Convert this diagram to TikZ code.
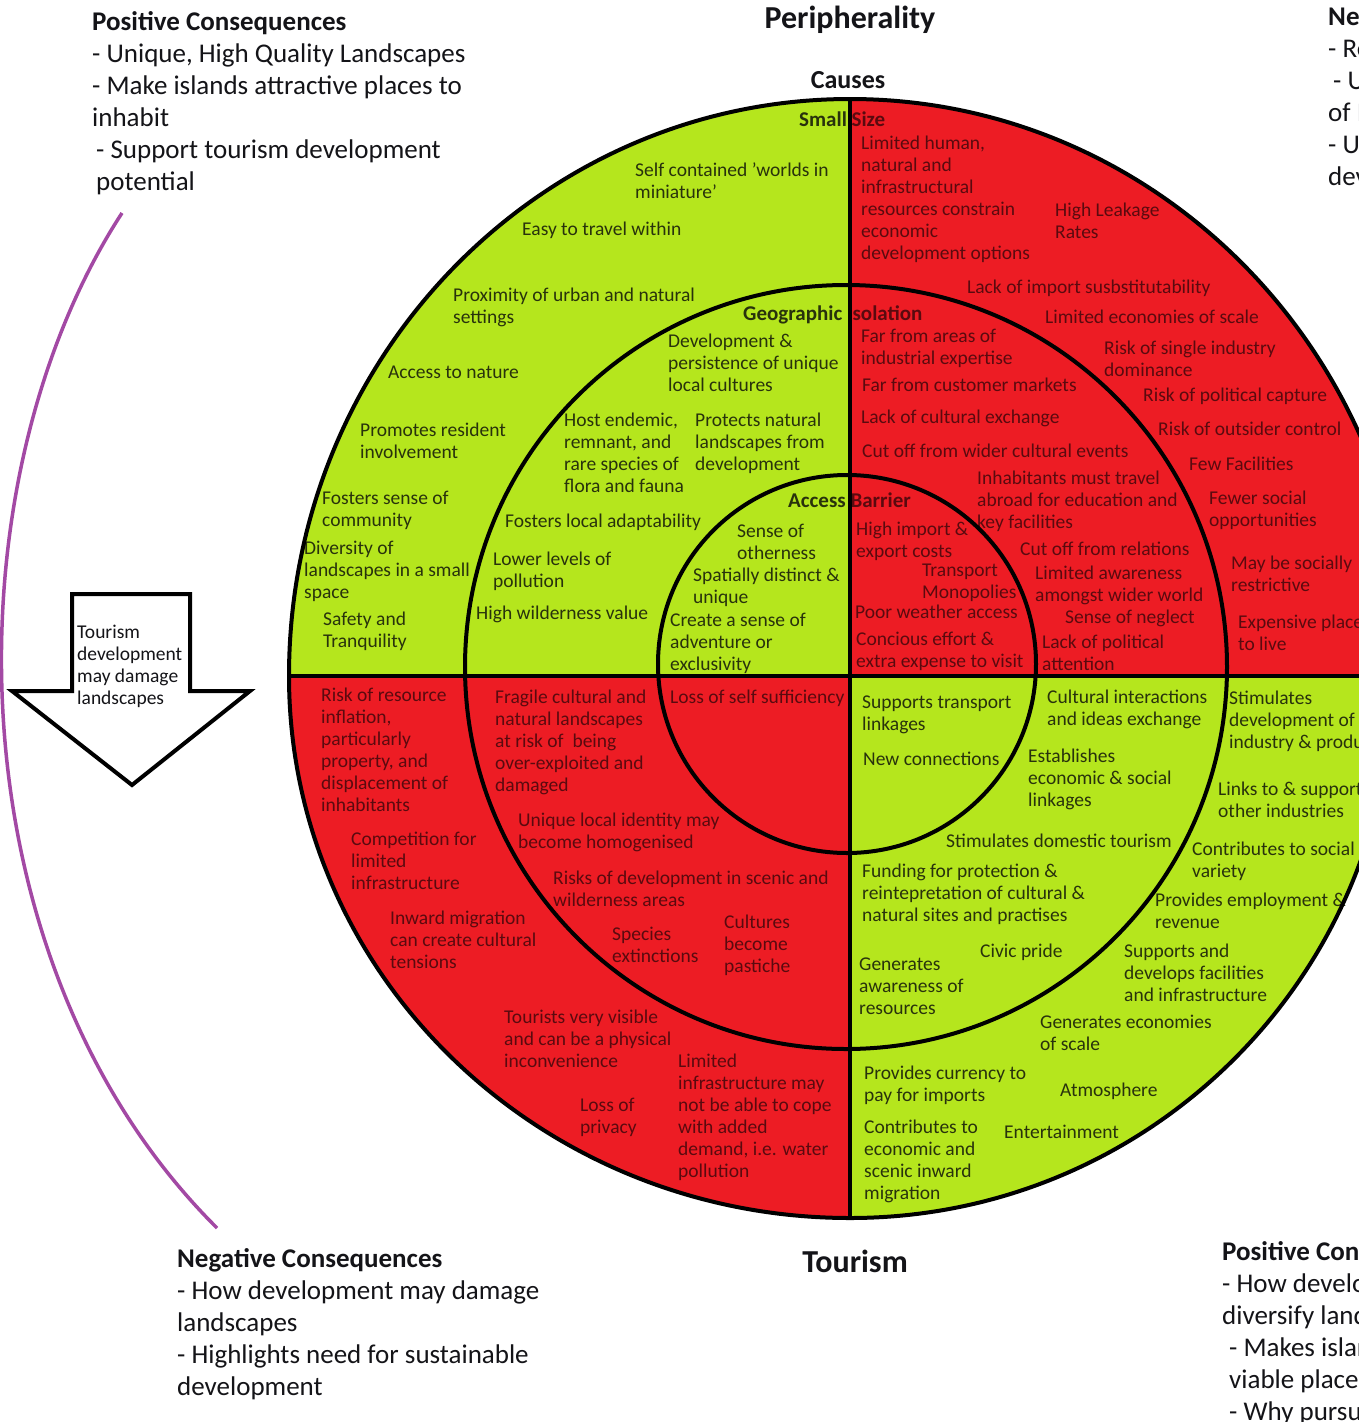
\documentclass[tikz,border=0pt]{standalone}
\usepackage{fontspec}
\setmainfont{Carlito}
\definecolor{limeg}{HTML}{B5E61D}
\definecolor{paintred}{HTML}{ED1C24}
\definecolor{paintpurple}{HTML}{A349A4}
\definecolor{txtg}{HTML}{28320C}
\definecolor{txtr}{HTML}{5A0A0F}
\definecolor{txtk}{HTML}{141418}
\tikzset{
  ctext/.style={anchor=north west, inner sep=0pt, align=left, font=\fontsize{19.5}{22}\selectfont, yshift=9pt},
  tg/.style={ctext, text=txtg},
  tr/.style={ctext, text=txtr},
  tk/.style={ctext, text=txtk},
  blk/.style={anchor=north west, inner sep=0pt, align=left, font=\fontsize{27}{32}\selectfont, yshift=13.6pt, text=txtk},
  lbl/.style={anchor=base west, inner sep=0pt, font=\fontsize{21}{24}\selectfont\bfseries},
  ttl/.style={anchor=center, inner sep=0pt, font=\fontsize{#1}{#1}\selectfont\bfseries, text=txtk},
  ring/.style={draw=black, line width=4pt},
}
\begin{document}
\begin{tikzpicture}[x=1pt,y=-1pt]
\useasboundingbox (0,0) rectangle (1359,1422);
\fill[white] (0,0) rectangle (1359,1422);
\clip (0,0) rectangle (1359,1422);
% quadrant fills
\begin{scope}
\clip (289,676) .. controls (289,357.3) and (540.2,99) .. (850,99)
  .. controls (1159.8,99) and (1411,357.3) .. (1411,676) -- (1393,676)
  .. controls (1393,975.3) and (1149.9,1218) .. (850,1218)
  .. controls (540.2,1218) and (289,975.3) .. (289,676) -- cycle;
\fill[limeg] (250,60) rectangle (850,676);
\fill[paintred] (850,60) rectangle (1450,676);
\fill[paintred] (250,676) rectangle (850,1260);
\fill[limeg] (850,676) rectangle (1450,1260);
\end{scope}
% ---- texts in the green quadrants
\node[tg] (g1) at (635,170) {\strut Self contained 'worlds in\\miniature'};
\node[tg] (g2) at (522,229) {\strut Easy to travel within};
\node[tg] (g3) at (453,295) {\strut Proximity of urban and natural\\settings};
\node[tg] (g4) at (388,372) {\strut Access to nature};
\node[tg] (g5) at (360,430) {\strut Promotes resident\\involvement};
\node[tg] (g6) at (322,498) {\strut Fosters sense of\\community};
\node[tg] (g7) at (304,548) {\strut Diversity of\\landscapes in a small\\space};
\node[tg] (g8) at (323,619) {\strut Safety and\\Tranquility};
\node[tg] (g9) at (668,341) {\strut Development \&\\persistence of unique\\local cultures};
\node[tg] (g10) at (564,420) {\strut Host endemic,\\remnant, and\\rare species of\\flora and fauna};
\node[tg] (g11) at (695,420) {\strut Protects natural\\landscapes from\\development};
\node[tg] (g12) at (505,521) {\strut Fosters local adaptability};
\node[tg] (g13) at (493,559) {\strut Lower levels of\\pollution};
\node[tg] (g14) at (476,613) {\strut High wilderness value};
\node[tg] (g15) at (737,531) {\strut Sense of\\otherness};
\node[tg] (g16) at (693,575) {\strut Spatially distinct \&\\unique};
\node[tg] (g17) at (670,620) {\strut Create a sense of\\adventure or\\exclusivity};
\node[tg] (g18) at (862,702) {\strut Supports transport\\linkages};
\node[tg] (g19) at (863,759) {\strut New connections};
\node[tg] (g20) at (1047,697) {\strut Cultural interactions\\and ideas exchange};
\node[tg] (g21) at (1028,756) {\strut Establishes\\economic \& social\\linkages};
\node[tg] (g22) at (946,841) {\strut Stimulates domestic tourism};
\node[tg] (g23) at (862,871) {\strut Funding for protection \&\\reintepretation of cultural \&\\natural sites and practises};
\node[tg] (g24) at (980,951) {\strut Civic pride};
\node[tg] (g25) at (859,964) {\strut Generates\\awareness of\\resources};
\node[tg] (g26) at (1229,698) {\strut Stimulates\\development of\\industry \& production};
\node[tg] (g27) at (1218,789) {\strut Links to \& supports\\other industries};
\node[tg] (g28) at (1192,849) {\strut Contributes to social\\variety};
\node[tg] (g29) at (1155,900) {\strut Provides employment \&\\revenue};
\node[tg] (g30) at (1124,951) {\strut Supports and\\develops facilities\\and infrastructure};
\node[tg] (g31) at (1040,1022) {\strut Generates economies\\of scale};
\node[tg] (g32) at (864,1073) {\strut Provides currency to\\pay for imports};
\node[tg] (g33) at (1060,1090) {\strut Atmosphere};
\node[tg] (g34) at (864,1127) {\strut Contributes to\\economic and\\scenic inward\\migration};
\node[tg] (g35) at (1004,1132) {\strut Entertainment};
% ---- texts in the red quadrants
\node[tr] (r1) at (861,143) {\strut Limited human,\\natural and\\infrastructural\\resources constrain\\economic\\development options};
\node[tr] (r2) at (1055,210) {\strut High Leakage\\Rates};
\node[tr] (r3) at (967,287) {\strut Lack of import susbstitutability};
\node[tr] (r4) at (1045,317) {\strut Limited economies of scale};
\node[tr] (r5) at (1104,348) {\strut Risk of single industry\\dominance};
\node[tr] (r6) at (1143,395) {\strut Risk of political capture};
\node[tr] (r7) at (1158,429) {\strut Risk of outsider control};
\node[tr] (r8) at (1189,464) {\strut Few Facilities};
\node[tr] (r9) at (1209,498) {\strut Fewer social\\opportunities};
\node[tr] (r10) at (1231,563) {\strut May be socially\\restrictive};
\node[tr] (r11) at (1238,622) {\strut Expensive place\\to live};
\node[tr] (r12) at (861,336) {\strut Far from areas of\\industrial expertise};
\node[tr] (r13) at (862,385) {\strut Far from customer markets};
\node[tr] (r14) at (861,417) {\strut Lack of cultural exchange};
\node[tr] (r15) at (862,451) {\strut Cut off from wider cultural events};
\node[tr] (r16) at (977,478) {\strut Inhabitants must travel\\abroad for education and\\key facilities};
\node[tr] (r17) at (1020,549) {\strut Cut off from relations};
\node[tr] (r18) at (1035,573) {\strut Limited awareness\\amongst wider world};
\node[tr] (r19) at (1065,617) {\strut Sense of neglect};
\node[tr] (r20) at (1042,642) {\strut Lack of political\\attention};
\node[tr] (r21) at (856,529) {\strut High import \&\\export costs};
\node[tr] (r22) at (922,570) {\strut Transport\\Monopolies};
\node[tr] (r23) at (855,612) {\strut Poor weather access};
\node[tr] (r24) at (856,639) {\strut Concious effort \&\\extra expense to visit};
\node[tr] (r25) at (670,697) {\strut Loss of self sufficiency};
\node[tr] (r26) at (495,697) {\strut Fragile cultural and\\natural landscapes\\at risk of \ being\\over-exploited and\\damaged};
\node[tr] (r27) at (518,820) {\strut Unique local identity may\\become homogenised};
\node[tr] (r28) at (553,878) {\strut Risks of development in scenic and\\wilderness areas};
\node[tr] (r29) at (612,934) {\strut Species\\extinctions};
\node[tr] (r30) at (724,922) {\strut Cultures\\become\\pastiche};
\node[tr] (r31) at (321,695) {\strut Risk of resource\\inflation,\\particularly\\property, and\\displacement of\\inhabitants};
\node[tr] (r32) at (351,839) {\strut Competition for\\limited\\infrastructure};
\node[tr] (r33) at (390,918) {\strut Inward migration\\can create cultural\\tensions};
\node[tr] (r34) at (504,1017) {\strut Tourists very visible\\and can be a physical\\inconvenience};
\node[tr] (r35) at (580,1105) {\strut Loss of\\privacy};
\node[tr] (r36) at (678,1061) {\strut Limited\\infrastructure may\\not be able to cope\\with added\\demand, i.e. water\\pollution};
% ---- ring labels
\node[lbl] (lsmall) at (799,126) {\textcolor{txtg}{Small} \textcolor{txtr}{Size}};
\node[lbl] (lgeo) at (743,320) {\textcolor{txtg}{Geographic} \textcolor{txtr}{Isolation}};
\node[lbl] (lacc) at (788,507) {\textcolor{txtg}{Access} \textcolor{txtr}{Barrier}};
% ---- rings and cross
\coordinate (ctop) at (850,99);
\coordinate (cbot) at (850,1218);
\coordinate (cleft) at (289,676);
\coordinate (cright) at (1411,676);
\draw[ring] (289,676) .. controls (289,357.3) and (540.2,99) .. (850,99)
  .. controls (1159.8,99) and (1411,357.3) .. (1411,676) -- (1393,676)
  .. controls (1393,975.3) and (1149.9,1218) .. (850,1218)
  .. controls (540.2,1218) and (289,975.3) .. (289,676) -- cycle;
\draw[ring] (846,667) ellipse [x radius=381, y radius=382];
\draw[ring] (847,664) ellipse [x radius=189, y radius=189];
\draw[ring] (ctop) -- (cbot);
\draw[ring] (cleft) -- (cright);
% ---- titles
\node[ttl=32] (tper) at (850,20) {Peripherality};
\node[ttl=26] (tcau) at (848,80) {Causes};
\node[ttl=32] (ttou) at (855,1261) {Tourism};
% ---- side blocks
\node[blk] (btl) at (92,21) {\strut\textbf{Positive Consequences}\\- Unique, High Quality Landscapes\\- Make islands attractive places to\\inhabit\\\hspace*{4pt}- Support tourism development\\\hspace*{4pt}potential};
\node[blk] (bbl) at (177,1258) {\strut\textbf{Negative Consequences}\\- How development may damage\\landscapes\\- Highlights need for sustainable\\development};
\node[blk] (btr) at (1328,16) {\strut\textbf{Negative Consequences}\\- Re\\\hspace*{5pt}- U\\of I\\- U\\dev};
\node[blk] (bbr) at (1222,1251) {\strut\textbf{Positive Consequences}\\- How development\\diversify landscapes\\\hspace*{7pt}- Makes islands\\\hspace*{7pt}viable places\\\hspace*{7pt}- Why pursue};
% ---- purple arc
\coordinate (pa) at (122,213);
\coordinate (pb) at (217,1228);
\draw[paintpurple, line width=3.5pt] (pa) .. controls (-52,480) and (-52,960) .. (pb);
% ---- block arrow
\draw[line width=4pt, fill=white, line join=miter] (72,594) -- (190,594) -- (190,691) -- (250,691) -- (132,785) -- (12,691) -- (72,691) -- cycle;
\node[tk] (arrowtext) at (77,632) {\strut Tourism\\development\\may damage\\landscapes};
\end{tikzpicture}
\end{document}
